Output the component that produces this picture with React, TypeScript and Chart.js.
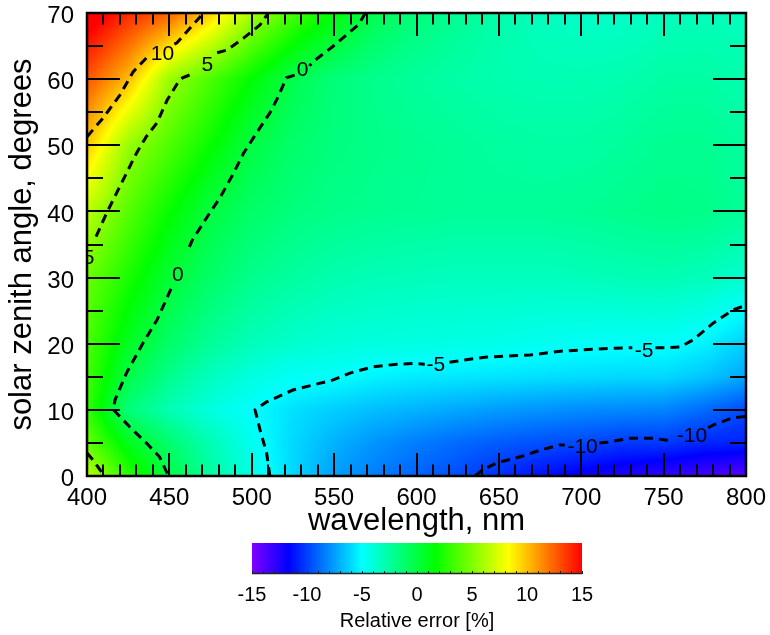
import React, { useEffect, useRef } from "react";
import { Chart, registerables } from "chart.js";

Chart.register(...registerables);

const FONT = "'Liberation Sans', Arial, Helvetica, sans-serif";

// ---- grid of relative error [%] (rows: solar zenith angle, cols: wavelength) ----
const wavelengths = [400, 425, 450, 475, 500, 525, 550, 575, 600, 625, 650, 675, 700, 725, 750, 775, 800];
const angles = [0, 5, 10, 15, 20, 30, 40, 50, 60, 70];

const errAt0 = [6.5, 2.8, -0.1, -2.5, -4.3, -6.0, -7.5, -8.4, -9.1, -9.7, -10.5, -11.3, -12.0, -12.5, -13.0, -13.5, -14.0];
const errAt5 = [4.3, 1.0, -1.2, -3.0, -4.6, -6.0, -7.0, -7.8, -8.4, -8.9, -9.3, -9.6, -9.8, -10.2, -10.2, -10.7, -10.8];
const errAt10 = [3.0, -1.5, -3.0, -4.2, -4.95, -5.8, -6.3, -6.7, -7.0, -7.3, -7.6, -7.8, -8.0, -8.1, -8.2, -8.9, -9.8];
const errAt15 = [3.4, -0.2, -2.0, -3.3, -4.2, -4.8, -4.9, -5.3, -5.5, -5.6, -5.7, -5.8, -5.9, -6.0, -6.0, -6.5, -7.3];
const errAt20 = [3.6, 0.8, -1.0, -2.3, -3.2, -3.7, -4.0, -4.15, -4.25, -4.3, -4.4, -4.6, -4.78, -4.85, -4.85, -5.3, -6.3];
const errAt30 = [4.4, 2.3, 0.3, -1.0, -2.0, -2.5, -2.9, -3.1, -3.2, -3.3, -3.3, -3.3, -3.2, -3.1, -3.0, -3.2, -3.8];
const errAt40 = [6.6, 3.9, 1.8, 0.0, -1.0, -1.6, -1.9, -2.1, -2.2, -2.3, -2.3, -2.3, -2.2, -2.0, -1.8, -1.9, -2.3];
const errAt50 = [9.8, 5.6, 3.7, 1.8, -0.1, -1.1, -1.6, -1.9, -2.1, -2.3, -2.5, -2.6, -2.6, -2.4, -2.1, -2.1, -2.5];
const errAt60 = [12.8, 10.1, 5.7, 3.58, 1.6, -0.35, -1.5, -2.0, -2.4, -2.7, -2.9, -3.0, -3.0, -2.9, -2.6, -2.6, -2.9];
const errAt70 = [16.0, 14.0, 12.5, 9.6, 6.0, 3.5, 1.5, -0.5, -1.5, -2.2, -2.8, -3.3, -3.6, -3.6, -3.3, -3.2, -3.3];

const errorRows = [errAt0, errAt5, errAt10, errAt15, errAt20, errAt30, errAt40, errAt50, errAt60, errAt70];

// ---- contour lines (y: null = gap for the label) ----
const contour10 = [
  { x: 400, y: 51.3 }, { x: 409.7, y: 54.1 }, { x: 420, y: 57.6 }, { x: 428, y: 61.1 }, { x: 436, y: 63.2 },
  { x: 440, y: null },
  { x: 453, y: 65.3 }, { x: 454.6, y: 65.5 }, { x: 468.6, y: 69.4 }, { x: 470.5, y: 70 },
];
const contour5 = [
  { x: 405.5, y: 36.2 }, { x: 412, y: 39.8 }, { x: 418, y: 42.8 }, { x: 424, y: 45.8 }, { x: 430, y: 48.8 },
  { x: 436, y: 51.3 }, { x: 442.5, y: 53.4 }, { x: 448.6, y: 56.8 }, { x: 455, y: 59.4 }, { x: 458, y: 60.2 },
  { x: 464, y: 60.8 },
  { x: 470, y: null },
  { x: 479, y: 64.0 }, { x: 485, y: 64.4 }, { x: 495, y: 66.2 }, { x: 505, y: 68.2 }, { x: 510, y: 70 },
];
const contour5Corner = [
  { x: 400, y: 3.5 }, { x: 404, y: 2.3 }, { x: 410.5, y: 0 },
];
const contour0 = [
  { x: 569, y: 70 }, { x: 564.6, y: 68.2 }, { x: 549, y: 64.9 }, { x: 537, y: 62.6 }, { x: 535, y: 62.0 },
  { x: 530, y: null },
  { x: 526, y: 60.6 }, { x: 521, y: 60.2 }, { x: 516, y: 57.3 }, { x: 511, y: 54.9 }, { x: 503, y: 51.9 },
  { x: 495, y: 48.8 }, { x: 489, y: 45.8 }, { x: 481, y: 42.2 }, { x: 473, y: 39.2 }, { x: 464, y: 35.7 },
  { x: 461, y: 34.0 },
  { x: 456, y: null },
  { x: 451, y: 28.3 }, { x: 442.5, y: 23.6 }, { x: 434, y: 20.1 }, { x: 424, y: 15.6 }, { x: 417, y: 11.5 },
  { x: 416, y: 10 }, { x: 426, y: 7.4 }, { x: 436, y: 5 }, { x: 444, y: 2.9 }, { x: 448.5, y: 0.5 }, { x: 449, y: 0 },
];
const contourMinus5 = [
  { x: 511, y: 0 }, { x: 509, y: 3.5 }, { x: 505, y: 7 }, { x: 502, y: 10 }, { x: 509, y: 11.2 }, { x: 525, y: 13 },
  { x: 541, y: 14 }, { x: 549, y: 14.5 }, { x: 560, y: 15.6 }, { x: 573.6, y: 16.5 }, { x: 588, y: 16.9 },
  { x: 598, y: 17 }, { x: 605, y: 16.9 },
  { x: 612, y: null },
  { x: 620, y: 17.2 }, { x: 628, y: 17.5 }, { x: 643, y: 18 }, { x: 669, y: 18.3 }, { x: 689, y: 18.9 },
  { x: 709.6, y: 19.2 }, { x: 729.6, y: 19.4 }, { x: 731, y: 19.4 },
  { x: 738, y: null },
  { x: 745, y: 19.4 }, { x: 752, y: 19.4 }, { x: 760, y: 19.5 }, { x: 768, y: 20.6 }, { x: 780, y: 23.1 },
  { x: 792, y: 25.1 }, { x: 800, y: 25.8 },
];
const contourMinus10 = [
  { x: 635.5, y: 0 }, { x: 640, y: 0.9 }, { x: 649, y: 2 }, { x: 663, y: 2.9 }, { x: 675, y: 3.9 },
  { x: 687, y: 4.7 }, { x: 690, y: 4.7 },
  { x: 700, y: null },
  { x: 711, y: 5.0 }, { x: 715.6, y: 5.1 }, { x: 729.6, y: 5.7 }, { x: 743.6, y: 5.7 }, { x: 752, y: 5.4 },
  { x: 754, y: 5.4 },
  { x: 766, y: null },
  { x: 777, y: 7.3 }, { x: 780, y: 7.7 }, { x: 792, y: 8.8 }, { x: 800, y: 9.0 },
];
const contourSets = [contour10, contour5, contour5Corner, contour0, contourMinus5, contourMinus10];

const labelTexts = ["10", "5", "5", "0", "0", "-5", "-5", "-10", "-10"];
const labelX = [445.8, 473.1, 400.9, 530.8, 455.2, 611.8, 738.1, 700.8, 767.2];
const labelY = [63.7, 62.1, 33.0, 61.3, 30.3, 16.7, 18.8, 4.3, 6.0];

const colorMin = -15;
const colorMax = 15;

function clamp(v: number, a: number, b: number) {
  return Math.max(a, Math.min(b, v));
}

function errorAt(w: number, a: number) {
  let i = 0;
  while (i < wavelengths.length - 2 && w > wavelengths[i + 1]) i++;
  let j = 0;
  while (j < angles.length - 2 && a > angles[j + 1]) j++;
  const tx = clamp((w - wavelengths[i]) / (wavelengths[i + 1] - wavelengths[i]), 0, 1);
  const ty = clamp((a - angles[j]) / (angles[j + 1] - angles[j]), 0, 1);
  const r0 = errorRows[j];
  const r1 = errorRows[j + 1];
  const v0 = r0[i] * (1 - tx) + r0[i + 1] * tx;
  const v1 = r1[i] * (1 - tx) + r1[i + 1] * tx;
  return v0 * (1 - ty) + v1 * ty;
}

function rainbow(v: number): [number, number, number] {
  const t = clamp((v - colorMin) / (colorMax - colorMin), 0, 1);
  const h = 270 * (1 - t);
  const hp = h / 60;
  const x = 1 - Math.abs((hp % 2) - 1);
  let r = 0, g = 0, b = 0;
  if (hp < 1) { r = 1; g = x; }
  else if (hp < 2) { r = x; g = 1; }
  else if (hp < 3) { g = 1; b = x; }
  else if (hp < 4) { g = x; b = 1; }
  else { r = x; b = 1; }
  return [Math.round(r * 255), Math.round(g * 255), Math.round(b * 255)];
}

const heatmapPlugin = {
  id: "heatmap",
  beforeDatasetsDraw(chart: any) {
    const { ctx, chartArea } = chart;
    const xs = chart.scales.x;
    const ys = chart.scales.y;
    const left = Math.round(chartArea.left);
    const top = Math.round(chartArea.top);
    const w = Math.round(chartArea.right) - left;
    const h = Math.round(chartArea.bottom) - top;
    const off = document.createElement("canvas");
    off.width = w;
    off.height = h;
    const octx = off.getContext("2d")!;
    const img = octx.createImageData(w, h);
    const xv: number[] = [];
    for (let px = 0; px < w; px++) xv.push(xs.getValueForPixel(left + px + 0.5));
    for (let py = 0; py < h; py++) {
      const yv = ys.getValueForPixel(top + py + 0.5);
      for (let px = 0; px < w; px++) {
        const c = rainbow(errorAt(xv[px], yv));
        const k = (py * w + px) * 4;
        img.data[k] = c[0];
        img.data[k + 1] = c[1];
        img.data[k + 2] = c[2];
        img.data[k + 3] = 255;
      }
    }
    octx.putImageData(img, 0, 0);
    ctx.drawImage(off, left, top);
  },
};

const framePlugin = {
  id: "frame",
  afterDatasetsDraw(chart: any) {
    const { ctx, chartArea } = chart;
    const xs = chart.scales.x;
    const ys = chart.scales.y;
    const { left, right, top, bottom } = chartArea;
    // contour labels
    ctx.save();
    ctx.beginPath();
    ctx.rect(left, top, right - left, bottom - top);
    ctx.clip();
    ctx.fillStyle = "#000";
    ctx.font = `21px ${FONT}`;
    ctx.textAlign = "center";
    ctx.textBaseline = "middle";
    labelTexts.forEach((t, i) => {
      ctx.fillText(t, xs.getPixelForValue(labelX[i]), ys.getPixelForValue(labelY[i]));
    });
    ctx.restore();

    // ticks (inside, on all four sides)
    ctx.save();
    ctx.strokeStyle = "#000";
    ctx.lineWidth = 2;
    ctx.beginPath();
    for (let v = xs.min; v <= xs.max + 1e-9; v += 10) {
      const major = Math.abs(v % 50) < 1e-6;
      const len = major ? 23 : 11.5;
      const p = Math.round(xs.getPixelForValue(v));
      ctx.moveTo(p, bottom);
      ctx.lineTo(p, bottom - len);
      ctx.moveTo(p, top);
      ctx.lineTo(p, top + len);
    }
    for (let v = ys.min; v <= ys.max + 1e-9; v += 5) {
      const major = Math.abs(v % 10) < 1e-6;
      const len = major ? 33 : 16;
      const p = Math.round(ys.getPixelForValue(v));
      ctx.moveTo(left, p);
      ctx.lineTo(left + len, p);
      ctx.moveTo(right, p);
      ctx.lineTo(right - len, p);
    }
    ctx.stroke();
    ctx.lineWidth = 2.5;
    ctx.strokeRect(left, top, right - left, bottom - top);
    ctx.restore();
  },
};

const colorbarPlugin = {
  id: "colorbar",
  afterDraw(chart: any) {
    const { ctx, chartArea } = chart;
    const xs = chart.scales.x;
    const { left, right, top, bottom } = chartArea;
    ctx.save();
    for (let px = Math.floor(left); px < Math.ceil(right); px++) {
      const c = rainbow(xs.getValueForPixel(px + 0.5));
      ctx.fillStyle = `rgb(${c[0]},${c[1]},${c[2]})`;
      ctx.fillRect(px, top, 1, bottom - top);
    }
    ctx.strokeStyle = "#222";
    ctx.lineWidth = 1;
    ctx.beginPath();
    for (let v = colorMin; v <= colorMax + 1e-9; v += 1) {
      const p = Math.round(xs.getPixelForValue(v)) + 0.5;
      ctx.moveTo(p, bottom);
      ctx.lineTo(p, bottom - 3);
    }
    ctx.stroke();
    ctx.lineWidth = 1.5;
    ctx.beginPath();
    ctx.moveTo(left, bottom - 0.5);
    ctx.lineTo(right, bottom - 0.5);
    ctx.stroke();
    ctx.restore();
  },
};

function zeroPadding(s: any) {
  s.paddingTop = 0;
  s.paddingBottom = 0;
  s.paddingLeft = 0;
  s.paddingRight = 0;
}

export default function App() {
  const mainRef = useRef<HTMLCanvasElement>(null);
  const barRef = useRef<HTMLCanvasElement>(null);

  useEffect(() => {
    const main = new Chart(mainRef.current!, {
      type: "scatter",
      data: {
        datasets: contourSets.map((d) => ({
          data: d as any,
          showLine: true,
          borderColor: "#000",
          borderWidth: 3,
          borderDash: [9, 6],
          borderCapStyle: "butt",
          pointRadius: 0,
          spanGaps: false,
          tension: 0,
        })),
      },
      options: {
        animation: false,
        responsive: false,
        devicePixelRatio: 1,
        layout: { padding: { left: 0, top: 13, right: 24, bottom: 0 } },
        plugins: { legend: { display: false }, tooltip: { enabled: false } },
        events: [],
        scales: {
          x: {
            type: "linear",
            position: "bottom",
            min: 400,
            max: 800,
            grid: { display: false, drawTicks: false },
            border: { display: false },
            ticks: {
              stepSize: 50,
              autoSkip: false,
              maxRotation: 0,
              padding: 10.5,
              color: "#000",
              font: { family: FONT, size: 24, lineHeight: 1 },
            },
            title: {
              display: true,
              text: "wavelength, nm",
              color: "#000",
              font: { family: FONT, size: 31, lineHeight: 1.2 },
              padding: { top: 0, bottom: 0 },
            },
            afterFit: (s: any) => {
              s.height = 64;
              zeroPadding(s);
            },
          },
          y: {
            type: "linear",
            position: "left",
            min: 0,
            max: 70,
            grid: { display: false, drawTicks: false },
            border: { display: false },
            ticks: {
              stepSize: 10,
              autoSkip: false,
              padding: 13,
              labelOffset: 3.5,
              color: "#000",
              font: { family: FONT, size: 24, lineHeight: 1 },
            },
            title: {
              display: true,
              text: "solar zenith angle, degrees",
              color: "#000",
              font: { family: FONT, size: 31, lineHeight: 1.2 },
              padding: { top: 4, bottom: 0 },
            },
            afterFit: (s: any) => {
              s.width = 87;
              zeroPadding(s);
            },
          },
        },
      } as any,
      plugins: [heatmapPlugin, framePlugin],
    });

    const bar = new Chart(barRef.current!, {
      type: "scatter",
      data: { datasets: [] },
      options: {
        animation: false,
        responsive: false,
        devicePixelRatio: 1,
        layout: { padding: { left: 252, top: 13, right: 188, bottom: 0 } },
        plugins: { legend: { display: false }, tooltip: { enabled: false } },
        events: [],
        scales: {
          x: {
            type: "linear",
            position: "bottom",
            min: colorMin,
            max: colorMax,
            grid: { display: false, drawTicks: false },
            border: { display: false },
            ticks: {
              stepSize: 5,
              autoSkip: false,
              maxRotation: 0,
              padding: 9,
              color: "#000",
              font: { family: FONT, size: 20, lineHeight: 1.2 },
            },
            title: {
              display: true,
              text: "Relative error [%]",
              color: "#000",
              font: { family: FONT, size: 20, lineHeight: 1.2 },
              padding: { top: 0, bottom: 2 },
            },
            afterFit: (s: any) => {
              s.height = 61;
              zeroPadding(s);
            },
          },
          y: { display: false, min: 0, max: 1 },
        },
      } as any,
      plugins: [colorbarPlugin],
    });

    return () => {
      main.destroy();
      bar.destroy();
    };
  }, []);

  return (
    <div style={{ position: "fixed", left: 0, top: 0, width: 770, height: 635, background: "#fff", overflow: "hidden" }}>
      <canvas ref={mainRef} width={770} height={540} style={{ position: "absolute", left: 0, top: 0, width: 770, height: 540 }} />
      <canvas ref={barRef} width={770} height={105} style={{ position: "absolute", left: 0, top: 530, width: 770, height: 105 }} />
    </div>
  );
}
